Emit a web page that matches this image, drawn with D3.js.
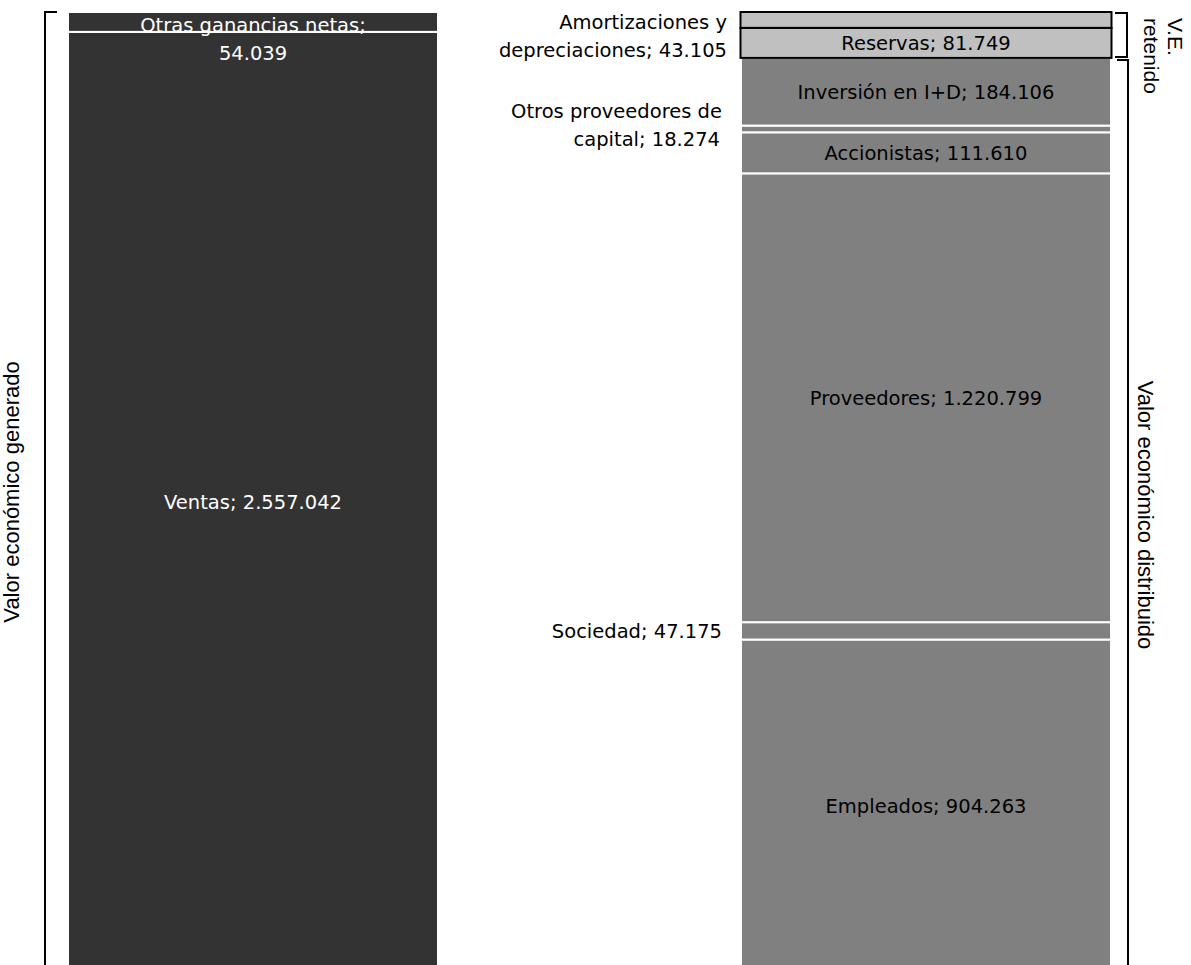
<!DOCTYPE html>
<html>
<head>
<meta charset="utf-8">
<script src="https://cdn.jsdelivr.net/npm/d3@7"></script>
<style>
  body { margin: 0; background: #fff; }
  svg text { font-family: "DejaVu Sans", sans-serif; }
</style>
</head>
<body>
<div id="chart"></div>
<script>
// valores en miles de euros
const generadoCats = ['Ventas', 'Otras ganancias netas'];
const generadoVals = [2557042, 54039];

// de abajo arriba
const distribuidoCats = ['Empleados', 'Sociedad', 'Proveedores', 'Accionistas', 'Otros proveedores de capital', 'Inversión en I+D'];
const distribuidoVals = [904263, 47175, 1220799, 111610, 18274, 184106];

const retenidoCats = ['Reservas', 'Amortizaciones y depreciaciones'];
const retenidoVals = [81749, 43105];

const columnas = ['generado', 'distribuido'];

const width = 1191, height = 965;
const fmt = d3.formatLocale({ decimal: ',', thousands: '.', grouping: [3], currency: ['', ''] }).format(',d');

const svg = d3.select('#chart').append('svg')
    .attr('width', width)
    .attr('height', height);

const total = d3.sum(generadoVals);

const y = d3.scaleLinear().domain([0, total]).range([972, 12]);
const x = d3.scaleBand().domain(columnas).range([68, 1111]).paddingInner(303 / 673);

// apilar segmentos
function apilar(cats, vals, start, tipo) {
    let acc = start;
    return cats.map((c, i) => {
        const d = { name: c, value: vals[i], y0: acc, y1: acc + vals[i], tipo: tipo };
        acc += vals[i];
        return d;
    });
}
const segGen = apilar(generadoCats, generadoVals, 0, 'gen');
const segDist = apilar(distribuidoCats, distribuidoVals, 0, 'dist');
const segRet = apilar(retenidoCats, retenidoVals, d3.sum(distribuidoVals), 'ret');

const colores = { gen: '#333333', dist: '#808080', ret: '#c0c0c0' };

svg.selectAll('rect.gen')
    .data(segGen)
    .enter().append('rect')
    .attr('x', x('generado'))
    .attr('width', x.bandwidth())
    .attr('y', d => y(d.y1))
    .attr('height', d => y(d.y0) - y(d.y1))
    .attr('fill', colores.gen)
    .attr('stroke', '#fff')
    .attr('stroke-width', 2);

svg.selectAll('rect.dist')
    .data(segDist)
    .enter().append('rect')
    .attr('x', x('distribuido'))
    .attr('width', x.bandwidth())
    .attr('y', d => y(d.y1))
    .attr('height', d => y(d.y0) - y(d.y1))
    .attr('fill', colores.dist)
    .attr('stroke', '#fff')
    .attr('stroke-width', 2);

svg.selectAll('rect.ret')
    .data(segRet)
    .enter().append('rect')
    .attr('x', x('distribuido') - 0.5)
    .attr('width', x.bandwidth() + 1)
    .attr('y', d => y(d.y1))
    .attr('height', d => y(d.y0) - y(d.y1))
    .attr('fill', colores.ret)
    .attr('stroke', '#000')
    .attr('stroke-width', 2);

const mid = d => (y(d.y0) + y(d.y1)) / 2;
const fs = 19.5;

// etiquetas dentro de las barras
const dentro = [
    { d: segGen[0], col: 'generado', color: '#fff' },
    { d: segDist[0], col: 'distribuido', color: '#000' },
    { d: segDist[2], col: 'distribuido', color: '#000' },
    { d: segDist[3], col: 'distribuido', color: '#000' },
    { d: segDist[5], col: 'distribuido', color: '#000' },
    { d: segRet[0], col: 'distribuido', color: '#000' }
];
svg.selectAll('text.dentro')
    .data(dentro)
    .enter().append('text')
    .attr('x', o => x(o.col) + x.bandwidth() / 2)
    .attr('y', o => mid(o.d))
    .attr('dy', '0.35em')
    .attr('text-anchor', 'middle')
    .attr('fill', o => o.color)
    .style('font-size', fs + 'px')
    .text(o => o.d.name + '; ' + fmt(o.d.value));

// Otras ganancias netas (dos líneas)
const og = segGen[1];
svg.append('text')
    .attr('x', x('generado') + x.bandwidth() / 2)
    .attr('y', mid(og) + 3)
    .attr('dy', '0.35em')
    .attr('text-anchor', 'middle')
    .attr('fill', '#fff')
    .style('font-size', fs + 'px')
    .call(t => {
        t.append('tspan').text(og.name + ';');
        t.append('tspan').attr('x', x('generado') + x.bandwidth() / 2).attr('dy', 28).text(fmt(og.value));
    });

// etiquetas fuera, a la izquierda de la barra derecha
const fuera = [
    { l1: 'Amortizaciones y', l2: 'depreciaciones; ' + fmt(segRet[1].value), yc: mid(segRet[1]) + 16, xr: 727, xr2: 727 },
    { l1: 'Otros proveedores de', l2: 'capital; ' + fmt(segDist[4].value), yc: mid(segDist[4]) - 4, xr: 722, xr2: 720 }
];
fuera.forEach(o => {
    const t = svg.append('text')
        .attr('text-anchor', 'end')
        .attr('fill', '#000')
        .style('font-size', fs + 'px')
        .attr('y', o.yc - 14)
        .attr('dy', '0.35em');
    t.append('tspan').attr('x', o.xr).text(o.l1);
    t.append('tspan').attr('x', o.xr2).attr('dy', 28).text(o.l2);
});
svg.append('text')
    .attr('x', 722)
    .attr('y', mid(segDist[1]))
    .attr('dy', '0.35em')
    .attr('text-anchor', 'end')
    .style('font-size', fs + 'px')
    .text(segDist[1].name + '; ' + fmt(segDist[1].value));

// corchetes
const line = d3.line();
const corchete = (pts) => svg.append('path')
    .attr('d', line(pts))
    .attr('fill', 'none')
    .attr('stroke', '#000')
    .attr('stroke-width', 2);

corchete([[57, y(total)], [45, y(total)], [45, y(0) + 10]]);
const topDist = d3.sum(distribuidoVals);
corchete([[1115, y(total) + 1], [1127, y(total) + 1], [1127, y(topDist) - 1], [1115, y(topDist) - 1]]);
corchete([[1117, y(topDist) + 2], [1128, y(topDist) + 2], [1128, y(0) + 10]]);

// títulos laterales
const fTit = '"Liberation Sans", Arial, sans-serif';
svg.append('text')
    .attr('transform', `translate(19, ${(y(total) + y(0)) / 2}) rotate(-90)`)
    .attr('text-anchor', 'middle')
    .style('font-family', fTit)
    .style('font-size', '22px')
    .text('Valor económico generado');

svg.append('text')
    .attr('transform', `translate(1138, ${(y(topDist) + y(0)) / 2}) rotate(90)`)
    .attr('text-anchor', 'middle')
    .style('font-family', fTit)
    .style('font-size', '22px')
    .text('Valor económico distribuido');

const vt = svg.append('text')
    .attr('transform', 'translate(1168, 18) rotate(90)')
    .attr('text-anchor', 'start')
    .style('font-family', fTit)
    .style('font-size', '21px');
vt.append('tspan').attr('x', 0).attr('y', 0).text('V.E.');
vt.append('tspan').attr('x', 0).attr('y', 24).text('retenido');
</script>
</body>
</html>
